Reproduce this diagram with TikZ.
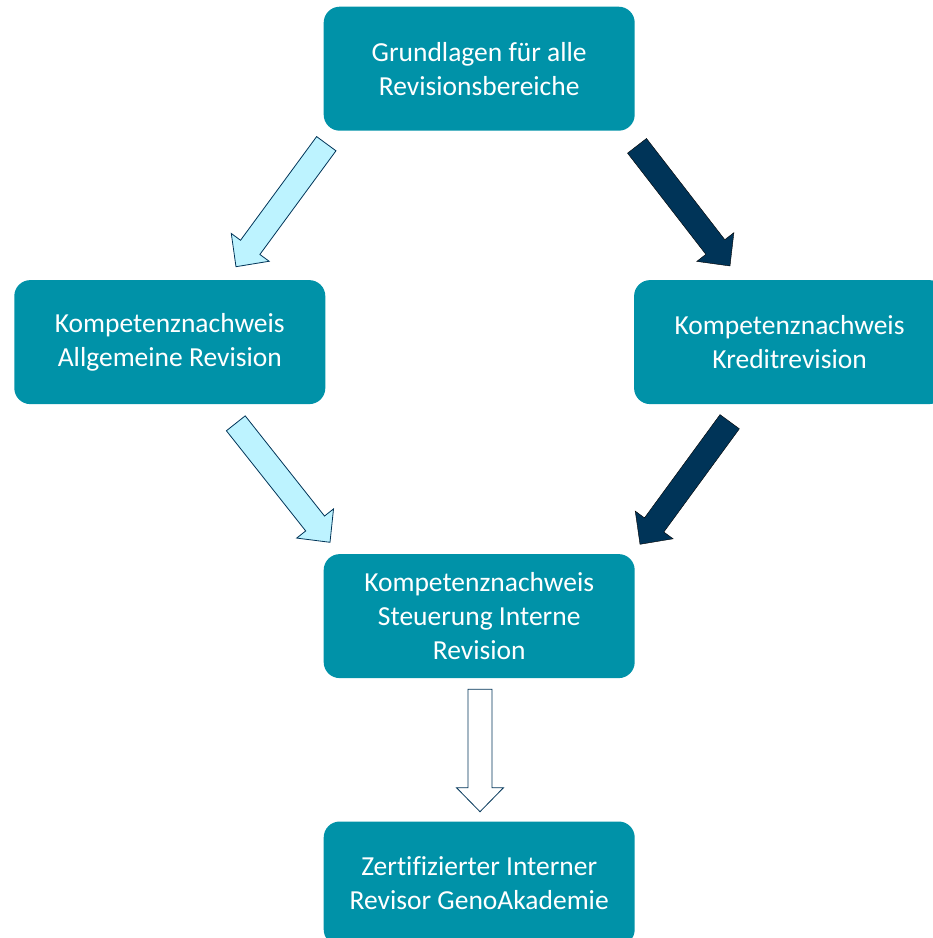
\documentclass[tikz,border=0pt]{standalone}
\usepackage{fontspec}
\setmainfont{Carlito}[Ligatures=NoCommon]
\usetikzlibrary{
  positioning,
  calc
}
\definecolor{petrol}{RGB}{0,146,168}
\definecolor{marine}{RGB}{0,52,88}
\definecolor{eisblau}{RGB}{189,243,255}
\tikzset{
  box/.style={fill=petrol, text=white, rounded corners=16pt,
    minimum width=311pt, minimum height=124pt, inner sep=0pt,
    align=center, font=\fontsize{27.5}{34}\selectfont},
  hell/.style={fill=eisblau, draw=marine, line width=0.8pt},
  dunkel/.style={fill=marine},
  leer/.style={fill=white, draw=marine, line width=0.8pt}
}
% block arrow: style, tail, tip
\newcommand{\blockpfeil}[3]{%
  \coordinate (kopf) at ($(#3)!24pt!(#2)$);
  \draw[#1] ($(#2)!12pt!90:(#3)$) -- ($(kopf)!12pt!90:(#3)$)
    -- ($(kopf)!23.5pt!90:(#3)$) -- (#3)
    -- ($(kopf)!23.5pt!-90:(#3)$) -- ($(kopf)!12pt!-90:(#3)$)
    -- ($(#2)!12pt!-90:(#3)$) -- cycle;
}

\begin{document}
\begin{tikzpicture}[x=1pt, y=-1pt]
    \clip (0,0) rectangle (933,938);

    \node[box] (grund) at (479.2,68.7) {Grundlagen für alle\\Revisionsbereiche};
    \node[box, below left=149pt and -2pt of grund] (allg) {Kompetenznachweis\\Allgemeine Revision};
    \node[box, below right=149pt and -1pt of grund] (kredit) {Kompetenznachweis\\Kreditrevision};
    \node[box, below=423pt of grund] (steuer) {Kompetenznachweis\\Steuerung Interne\\Revision};
    \node[box, below=143pt of steuer] (zert) {Zertifizierter Interner\\Revisor GenoAkademie};

    \coordinate (p1a) at (326.3,143.7);
    \coordinate (p1b) at (236,266.7);
    \coordinate (p2a) at (637,145.8);
    \coordinate (p2b) at (730,266);
    \coordinate (p3a) at (235.8,423.3);
    \coordinate (p3b) at (330,542.3);
    \coordinate (p4a) at (729.7,421.7);
    \coordinate (p4b) at (640,544.3);
    \coordinate (p5a) at (480,689.3);
    \coordinate (p5b) at (480,811.7);

    \blockpfeil{hell}{p1a}{p1b}
    \blockpfeil{dunkel}{p2a}{p2b}
    \blockpfeil{hell}{p3a}{p3b}
    \blockpfeil{dunkel}{p4a}{p4b}
    \blockpfeil{leer}{p5a}{p5b}
  \end{tikzpicture}
\end{document}
